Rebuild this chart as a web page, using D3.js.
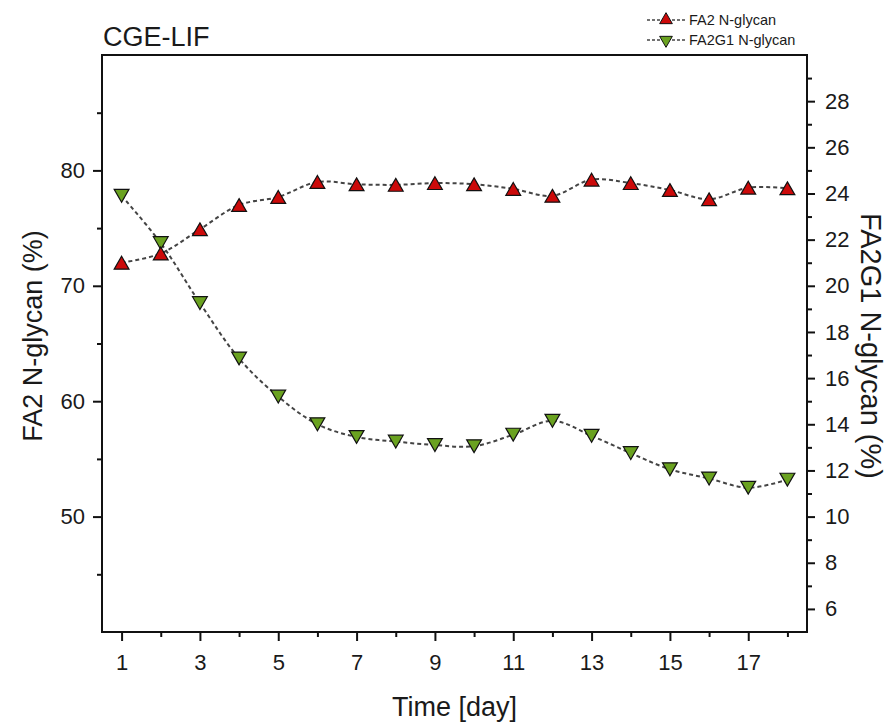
<!DOCTYPE html>
<html>
<head>
<meta charset="utf-8">
<script src="https://cdn.jsdelivr.net/npm/d3@7"></script>
<style>
  body { margin: 0; background: #fff; }
  svg { display: block; font-family: "Liberation Sans", Arial, sans-serif; }
</style>
</head>
<body>
<svg id="chart" width="889" height="725"></svg>
<script>
// ---- data ----
const days = [1,2,3,4,5,6,7,8,9,10,11,12,13,14,15,16,17,18];
const fa2 = [72.0,72.8,74.9,77.0,77.7,79.0,78.8,78.75,78.9,78.8,78.4,77.8,79.2,78.9,78.3,77.5,78.5,78.45];
const fa2g1 = [23.9,21.85,19.25,16.85,15.2,14.0,13.45,13.25,13.1,13.05,13.55,14.15,13.5,12.75,12.05,11.65,11.25,11.6];
const xMajor = [1,3,5,7,9,11,13,15,17];
const xMinor = [2,4,6,8,10,12,14,16,18];
const yLeftMajor = [50,60,70,80];
const yLeftMinor = [45,55,65,75,85];
const yRightMajor = [6,8,10,12,14,16,18,20,22,24,26,28];
const yRightMinor = [7,9,11,13,15,17,19,21,23,25,27,29];
const seriesNames = ["FA2 N-glycan", "FA2G1 N-glycan"];
const titleText = "CGE-LIF";
const xTitle = "Time [day]";
const yLeftTitle = "FA2 N-glycan (%)";
const yRightTitle = "FA2G1 N-glycan (%)";

// ---- layout ----
const L = 102, R = 807, T = 55, B = 632;
const svg = d3.select("#chart");
const x = d3.scaleLinear().domain([0.5, 18.5]).range([L, R]);
const yL = d3.scaleLinear().domain([40, 90]).range([B, T]);
const yR = d3.scaleLinear().domain([5, 30]).range([B, T]);

const redFill = "#cc0a0a", greenFill = "#6aa220";
const axisColor = "#111";

function styleAxis(g) {
  g.select(".domain").remove();
  g.selectAll(".tick line").attr("stroke", axisColor).attr("stroke-width", 2);
  g.selectAll(".tick text").attr("fill", "#1a1a1a").attr("font-size", 22)
    .attr("font-family", '"Liberation Sans", Arial, sans-serif');
}

// x axis
svg.append("g").attr("transform", `translate(0,${B})`)
  .call(d3.axisBottom(x).tickValues(xMajor).tickSize(9).tickPadding(13).tickFormat(d3.format("d")))
  .call(styleAxis);
svg.append("g").attr("transform", `translate(0,${B})`)
  .call(d3.axisBottom(x).tickValues(xMinor).tickSize(5).tickFormat(""))
  .call(styleAxis);

// left axis
svg.append("g").attr("transform", `translate(${L},0)`)
  .call(d3.axisLeft(yL).tickValues(yLeftMajor).tickSize(9).tickPadding(8).tickFormat(d3.format("d")))
  .call(styleAxis);
svg.append("g").attr("transform", `translate(${L},0)`)
  .call(d3.axisLeft(yL).tickValues(yLeftMinor).tickSize(5).tickFormat(""))
  .call(styleAxis);

// right axis
svg.append("g").attr("transform", `translate(${R},0)`)
  .call(d3.axisRight(yR).tickValues(yRightMajor).tickSize(8).tickPadding(10).tickFormat(d3.format("d")))
  .call(styleAxis);
svg.append("g").attr("transform", `translate(${R},0)`)
  .call(d3.axisRight(yR).tickValues(yRightMinor).tickSize(5).tickFormat(""))
  .call(styleAxis);

// frame
svg.append("rect").attr("x", L).attr("y", T).attr("width", R - L).attr("height", B - T)
  .attr("fill", "none").attr("stroke", axisColor).attr("stroke-width", 2);

// lines
const curve = d3.curveCatmullRom.alpha(0.5);
const lineL = d3.line().x((d, i) => x(days[i])).y(d => yL(d)).curve(curve);
const lineR = d3.line().x((d, i) => x(days[i])).y(d => yR(d)).curve(curve);
svg.append("path").attr("d", lineL(fa2)).attr("fill", "none")
  .attr("stroke", "#444").attr("stroke-width", 2).attr("stroke-dasharray", "4,3");
svg.append("path").attr("d", lineR(fa2g1)).attr("fill", "none")
  .attr("stroke", "#444").attr("stroke-width", 2).attr("stroke-dasharray", "4,3");

// markers (centred on their bounding box, as in the source)
const symSize = 95;
const symShift = Math.sqrt(symSize / (Math.sqrt(3) * 3)) / 2;
const tri = d3.symbol().type(d3.symbolTriangle).size(symSize);
svg.append("g").selectAll("path").data(fa2g1).join("path")
  .attr("d", tri)
  .attr("transform", (d, i) => `translate(${x(days[i])},${yR(d) - symShift}) rotate(180)`)
  .attr("fill", greenFill).attr("stroke", "#111").attr("stroke-width", 1.2);
svg.append("g").selectAll("path").data(fa2).join("path")
  .attr("d", tri)
  .attr("transform", (d, i) => `translate(${x(days[i])},${yL(d) + symShift})`)
  .attr("fill", redFill).attr("stroke", "#111").attr("stroke-width", 1.2);

// titles
svg.append("text").attr("x", L + 1).attr("y", 46).attr("font-size", 27).attr("fill", "#1a1a1a").text(titleText);
svg.append("text").attr("x", (L + R) / 2).attr("y", 716).attr("text-anchor", "middle")
  .attr("font-size", 27).attr("fill", "#1a1a1a").text(xTitle);
svg.append("text").attr("transform", "translate(42,336) rotate(-90)").attr("text-anchor", "middle")
  .attr("font-size", 27).attr("fill", "#1a1a1a").text(yLeftTitle);
svg.append("text").attr("transform", "translate(861,346) rotate(90)").attr("text-anchor", "middle")
  .attr("font-size", 29).attr("fill", "#1a1a1a").text(yRightTitle);

// legend
const legend = svg.append("g");
const legRows = [
  {name: seriesNames[0], fill: redFill, rot: 0, y: 20},
  {name: seriesNames[1], fill: greenFill, rot: 180, y: 40}
];
const legSym = d3.symbol().type(d3.symbolTriangle).size(70);
legRows.forEach(r => {
  legend.append("line").attr("x1", 647).attr("x2", 685).attr("y1", r.y).attr("y2", r.y)
    .attr("stroke", "#444").attr("stroke-width", 1.5).attr("stroke-dasharray", "3,2");
  legend.append("path").attr("d", legSym)
    .attr("transform", `translate(666,${r.y}) rotate(${r.rot})`)
    .attr("fill", r.fill).attr("stroke", "#111").attr("stroke-width", 1);
  legend.append("text").attr("x", 689).attr("y", r.y + 5).attr("font-size", 14.5)
    .attr("fill", "#1a1a1a").text(r.name);
});
</script>
</body>
</html>
